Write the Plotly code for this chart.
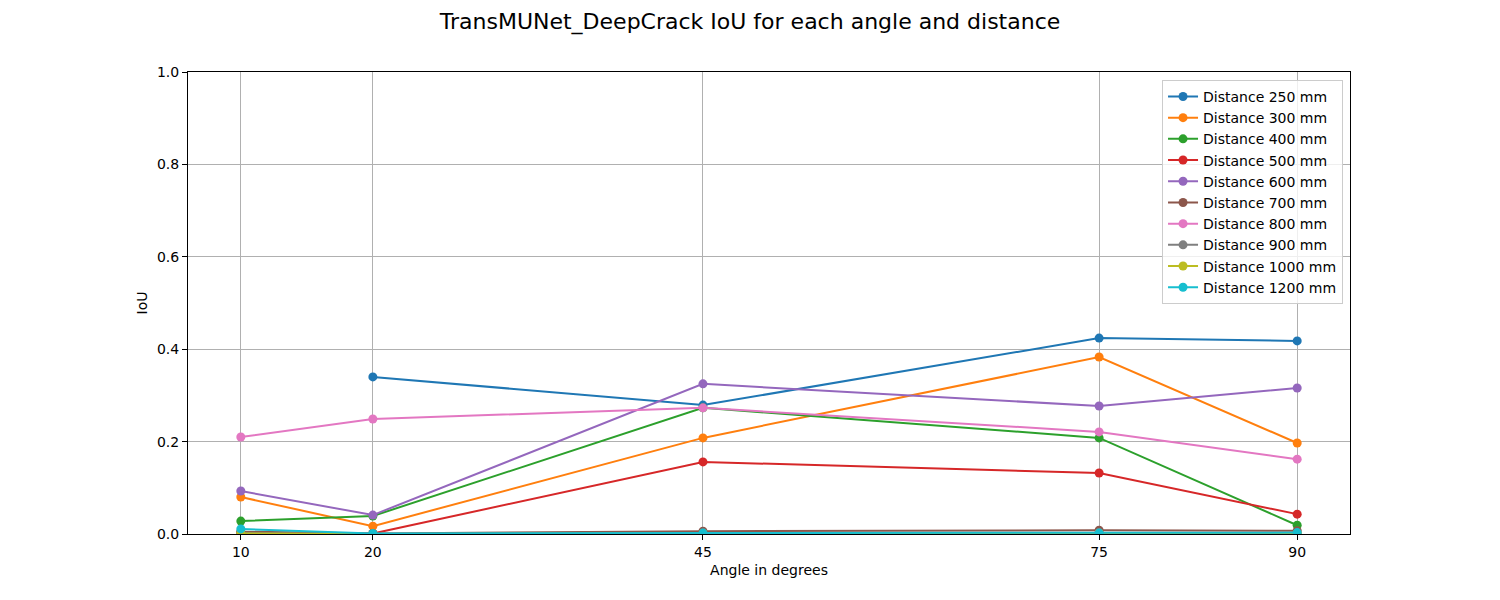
import plotly.graph_objects as go

angles = [10, 20, 45, 75, 90]

distances = ["250", "300", "400", "500", "600", "700", "800", "900", "1000", "1200"]

# IoU per distance, one value per angle (None = no result)
iou_250 = [None, 0.340, 0.279, 0.424, 0.418]
iou_300 = [0.080, 0.017, 0.208, 0.383, 0.197]
iou_400 = [0.028, 0.039, 0.273, 0.208, 0.019]
iou_500 = [0.003, 0.001, 0.156, 0.132, 0.043]
iou_600 = [0.093, 0.041, 0.325, 0.277, 0.316]
iou_700 = [0.005, 0.001, 0.006, 0.008, 0.007]
iou_800 = [0.210, 0.249, 0.273, 0.221, 0.162]
iou_900 = [0.002, 0.000, 0.002, 0.003, 0.002]
iou_1000 = [0.001, 0.000, 0.001, 0.001, 0.001]
iou_1200 = [0.011, 0.001, 0.002, 0.002, 0.003]

series = [iou_250, iou_300, iou_400, iou_500, iou_600,
          iou_700, iou_800, iou_900, iou_1000, iou_1200]

colors = ["#1f77b4", "#ff7f0e", "#2ca02c", "#d62728", "#9467bd",
          "#8c564b", "#e377c2", "#7f7f7f", "#bcbd22", "#17becf"]

fig = go.Figure()
for dist, vals, col in zip(distances, series, colors):
    fig.add_trace(go.Scatter(
        x=angles, y=vals, mode="lines+markers",
        name=f"Distance {dist} mm",
        line=dict(color=col, width=2),
        marker=dict(color=col, size=9),
        connectgaps=False,
    ))

axis_common = dict(
    showline=True, linecolor="black", linewidth=1, mirror=True,
    ticks="outside", ticklen=5, tickcolor="black",
    showgrid=True, gridcolor="#b0b0b0", gridwidth=1,
    zeroline=False,
    tickfont=dict(size=14, color="black"),
)

fig.update_layout(
    width=1500, height=600,
    margin=dict(l=180, r=158, t=64, b=74),
    paper_bgcolor="white", plot_bgcolor="white",
    font=dict(family="DejaVu Sans", color="black"),
    title=dict(text="TransMUNet_DeepCrack IoU for each angle and distance",
               x=0.4947, xanchor="center", y=0.978, yanchor="middle",
               font=dict(size=22)),
    xaxis=dict(range=[6, 94], tickvals=angles,
               title=dict(text="Angle in degrees", font=dict(size=14), standoff=6),
               **axis_common),
    yaxis=dict(range=[0, 1], dtick=0.2, tickformat=".1f",
               title=dict(text="IoU", font=dict(size=14), standoff=6),
               **axis_common),
    legend=dict(x=0.994, y=0.983, xanchor="right", yanchor="top",
                bgcolor="rgba(255,255,255,0.8)", bordercolor="#cccccc",
                borderwidth=1, font=dict(size=14), tracegroupgap=0,
                itemwidth=30),
    showlegend=True,
)

fig.write_html("out.html")
